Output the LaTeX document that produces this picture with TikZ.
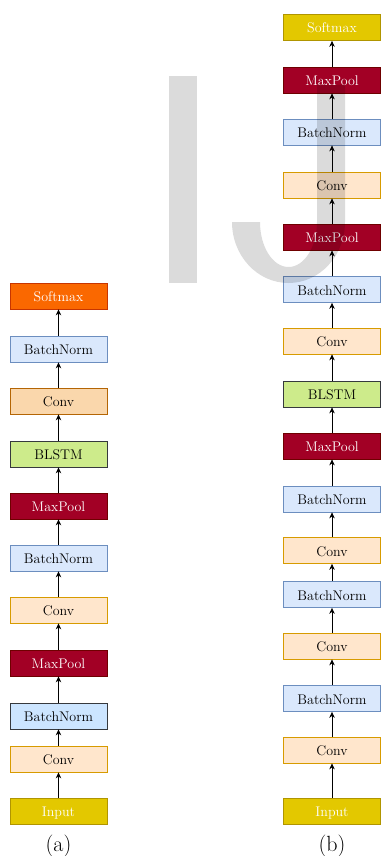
\documentclass[tikz,border=0pt]{standalone}
\usetikzlibrary{arrows.meta}

\definecolor{bnfill}{HTML}{DAE8FC}
\definecolor{bnline}{HTML}{6C8EBF}
\definecolor{bnfillb}{HTML}{CCE5FF}
\definecolor{darkline}{HTML}{36393D}
\definecolor{cvfill}{HTML}{FFE6CC}
\definecolor{cvline}{HTML}{D79B00}
\definecolor{cvfillb}{HTML}{FAD7AC}
\definecolor{cvlineb}{HTML}{B46504}
\definecolor{mpfill}{HTML}{A20025}
\definecolor{mpline}{HTML}{6F0000}
\definecolor{lsfill}{HTML}{CDEB8B}
\definecolor{ylfill}{HTML}{E3C800}
\definecolor{ylline}{HTML}{B09500}
\definecolor{orfill}{HTML}{FA6800}
\definecolor{orline}{HTML}{C73500}

\begin{document}
\begin{tikzpicture}[x=1pt, y=-1pt,
  blk/.style={draw, line width=0.75pt, minimum width=97pt, minimum height=26pt,
    inner sep=0pt, text height=11pt, text depth=0pt, font=\fontsize{14}{16}\selectfont},
  bn/.style={blk, fill=bnfill, draw=bnline},
  cv/.style={blk, fill=cvfill, draw=cvline},
  mp/.style={blk, fill=mpfill, draw=mpline, text=white},
  ls/.style={blk, fill=lsfill, draw=darkline},
  yl/.style={blk, fill=ylfill, draw=ylline, text=white},
  capt/.style={font=\fontsize{22}{24}\selectfont},
  e/.style={line width=0.8pt, -{Stealth[length=6pt, width=5.5pt]}},
  wm/.style={fill=black, opacity=0.14}
]
\useasboundingbox (0,0) rectangle (380,856);

% (a)
\node[yl] (a1) at (58.5,811) {Input};
\node[cv] (a2) at (58.5,759) {Conv};
\node[bn, fill=bnfillb, draw=darkline] (a3) at (58.5,716) {BatchNorm};
\node[mp] (a4) at (58.5,663) {MaxPool};
\node[cv] (a5) at (58.5,610) {Conv};
\node[bn] (a6) at (58.5,558) {BatchNorm};
\node[mp] (a7) at (58.5,506) {MaxPool};
\node[ls] (a8) at (58.5,454) {BLSTM};
\node[cv, fill=cvfillb, draw=cvlineb] (a9) at (58.5,401) {Conv};
\node[bn] (a10) at (58.5,349) {BatchNorm};
\node[yl, fill=orfill, draw=orline] (a11) at (58.5,296) {Softmax};
\node[capt] (ca) at (58.5,846) {(a)};

\draw[e] (a1)--(a2);
\draw[e] (a2)--(a3);
\draw[e] (a3)--(a4);
\draw[e] (a4)--(a5);
\draw[e] (a5)--(a6);
\draw[e] (a6)--(a7);
\draw[e] (a7)--(a8);
\draw[e] (a8)--(a9);
\draw[e] (a9)--(a10);
\draw[e] (a10)--(a11);

% (b)
\node[yl] (b1) at (332,811) {Input};
\node[cv] (b2) at (332,750) {Conv};
\node[bn] (b3) at (332,698.5) {BatchNorm};
\node[cv] (b4) at (332,646) {Conv};
\node[bn] (b5) at (332,594.5) {BatchNorm};
\node[cv] (b6) at (332,550.5) {Conv};
\node[bn] (b7) at (332,499) {BatchNorm};
\node[mp] (b8) at (332,446) {MaxPool};
\node[ls] (b9) at (332,394) {BLSTM};
\node[cv] (b10) at (332,341) {Conv};
\node[bn] (b11) at (332,289.5) {BatchNorm};
\node[mp] (b12) at (332,237) {MaxPool};
\node[cv] (b13) at (332,185) {Conv};
\node[bn] (b14) at (332,132) {BatchNorm};
\node[mp] (b15) at (332,80) {MaxPool};
\node[yl] (b16) at (332,27.5) {Softmax};
\node[capt] (cb) at (332,846) {(b)};

\draw[e] (b1)--(b2);
\draw[e] (b2)--(b3);
\draw[e] (b3)--(b4);
\draw[e] (b4)--(b5);
\draw[e] (b5)--(b6);
\draw[e] (b6)--(b7);
\draw[e] (b7)--(b8);
\draw[e] (b8)--(b9);
\draw[e] (b9)--(b10);
\draw[e] (b10)--(b11);
\draw[e] (b11)--(b12);
\draw[e] (b12)--(b13);
\draw[e] (b13)--(b14);
\draw[e] (b14)--(b15);
\draw[e] (b15)--(b16);

% watermark
\fill[wm] (169,76) rectangle (197,283);
\fill[wm] (317,85) -- (345,85) -- (345,222)
  arc[start angle=0, end angle=180, x radius=56.5, y radius=61]
  -- (260,222)
  arc[start angle=180, end angle=0, x radius=28.5, y radius=45]
  -- cycle;
\end{tikzpicture}
\end{document}
